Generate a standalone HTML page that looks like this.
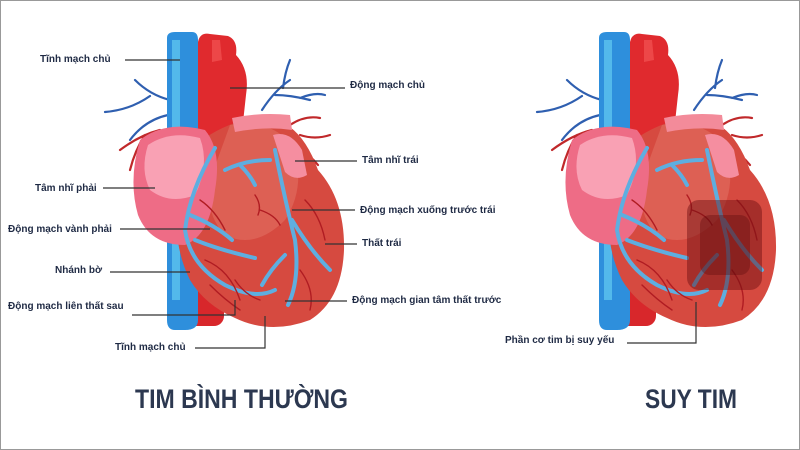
<!DOCTYPE html>
<html><head><meta charset="utf-8"><style>
html,body{margin:0;padding:0;background:#fff}
svg{display:block}
text{font-family:"Liberation Sans",sans-serif;fill:#1f2a44}
.l{font-size:10px;font-weight:bold}
.t{font-size:27px;font-weight:bold;fill:#2c3850}
.ln{stroke:#333;stroke-width:1.2;fill:none}
</style></head><body>
<svg width="800" height="450" viewBox="0 0 800 450" xmlns="http://www.w3.org/2000/svg">
<rect x="0.5" y="0.5" width="799" height="449" fill="#fff" stroke="#999"/>
<defs>
<g id="heart">
  <g fill="none" stroke-width="2.2" stroke-linecap="round">
    <path d="M170 100 Q150 95 135 80 M150 96 Q130 110 105 112 M168 115 Q145 120 130 140" stroke="#2f5fb0"/>
    <path d="M160 130 Q140 135 120 150 M145 135 Q135 150 130 170" stroke="#c0282a"/>
    <path d="M262 110 Q275 90 290 80 M275 95 Q290 95 310 100 M283 88 Q285 72 290 60 M300 98 Q315 92 325 95" stroke="#2f5fb0"/>
    <path d="M290 125 Q305 115 320 118 M300 135 Q315 140 330 135 M295 145 Q310 155 318 165" stroke="#c0282a"/>
  </g>
  <rect x="182" y="260" width="42" height="66" rx="10" fill="#d8272b"/>
  <path d="M167 38 Q167 32 175 32 L192 32 Q198 32 198 40 L198 55 L212 50 Q222 48 222 60 L222 68 L198 80 L198 320 Q198 330 185 330 L175 330 Q167 330 167 320 Z" fill="#2e8fdc"/>
  <path d="M172 40 L180 40 L180 300 L172 300 Z" fill="#5cc3ef" opacity="0.8"/>
  <path d="M198 42 Q200 32 210 34 L228 36 Q238 40 236 55 Q250 70 246 95 L240 150 L205 160 L198 140 Z" fill="#e02a2e"/>
  <path d="M212 40 L220 40 L222 60 L212 62 Z" fill="#f25454" opacity=".7"/>
  <path d="M195 145 Q230 118 265 118 Q300 120 318 170 Q345 200 344 250 Q342 300 310 320 Q270 335 235 318 Q205 305 190 280 Q170 240 180 190 Z" fill="#d64a40"/>
  <path d="M230 125 Q275 118 295 150 Q305 190 285 220 Q255 250 225 235 Q205 215 210 180 Z" fill="#e06a5c" opacity=".7"/>
  <path d="M232 118 Q260 112 290 115 L292 130 Q265 126 235 132 Z" fill="#f38b9a"/>
  <path d="M273 135 Q290 130 302 150 L307 175 Q295 182 285 172 Z" fill="#f58ea0"/>
  <path d="M140 140 Q165 120 205 130 Q222 150 215 190 Q210 235 185 245 Q150 245 138 215 Q128 180 140 140 Z" fill="#ee6c86"/>
  <path d="M148 145 Q170 130 200 138 Q210 165 195 195 Q170 205 150 190 Q140 170 148 145 Z" fill="#f9a1b4"/>
  <g fill="none" stroke-linecap="round">
    <path d="M215 148 Q190 190 185 230 Q190 265 225 285 Q255 300 275 290 M190 215 Q215 225 232 240 M195 240 Q220 250 255 258 M225 170 Q245 160 270 160 M240 165 Q250 175 255 185 M275 150 Q285 200 295 240 Q300 280 288 305 M292 220 Q310 250 330 270 M285 255 Q270 270 262 285" stroke="#5eaee0" stroke-width="4"/>
    <path d="M200 200 Q215 210 225 230 M205 260 Q230 270 240 300 M260 210 Q275 215 280 225 M305 200 Q320 215 325 240 M300 270 Q315 290 310 310 M235 280 Q245 295 260 300 M210 285 Q225 300 240 310 M255 195 Q262 205 258 215" stroke="#b01c22" stroke-width="1.4"/>
  </g>
</g>
</defs>
<use href="#heart"/>
<g transform="translate(432,0)">
  <use href="#heart"/>
  <rect x="255" y="200" width="75" height="90" rx="12" fill="#6a0e10" opacity=".45"/>
  <rect x="268" y="215" width="50" height="60" rx="10" fill="#5a0a0c" opacity=".35"/>
</g>

<text class="l" x="40" y="62">Tĩnh mạch chủ</text><path class="ln" d="M125 60 H180"/>
<text class="l" x="350" y="88">Động mạch chủ</text><path class="ln" d="M230 88 H345"/>
<text class="l" x="362" y="163">Tâm nhĩ trái</text><path class="ln" d="M295 161 H357"/>
<text class="l" x="35" y="191">Tâm nhĩ phải</text><path class="ln" d="M103 188 H155"/>
<text class="l" x="360" y="213">Động mạch xuống trước trái</text><path class="ln" d="M292 210 H355"/>
<text class="l" x="8" y="232">Động mạch vành phải</text><path class="ln" d="M120 229 H210"/>
<text class="l" x="362" y="246">Thất trái</text><path class="ln" d="M325 244 H357"/>
<text class="l" x="55" y="273">Nhánh bờ</text><path class="ln" d="M110 272 H190"/>
<text class="l" x="8" y="309">Động mạch liên thất sau</text><path class="ln" d="M132 315 H235 V300"/>
<text class="l" x="352" y="303">Động mạch gian tâm thất trước</text><path class="ln" d="M285 301 H347"/>
<text class="l" x="115" y="350">Tĩnh mạch chủ</text><path class="ln" d="M195 348 H265 V316"/>
<text class="l" x="505" y="343">Phần cơ tim bị suy yếu</text><path class="ln" d="M627 343 H696 V302"/>

<text class="t" x="135" y="408" textLength="213" lengthAdjust="spacingAndGlyphs">TIM BÌNH THƯỜNG</text>
<text class="t" x="645" y="408" textLength="92" lengthAdjust="spacingAndGlyphs">SUY TIM</text>
</svg>
</body></html>
